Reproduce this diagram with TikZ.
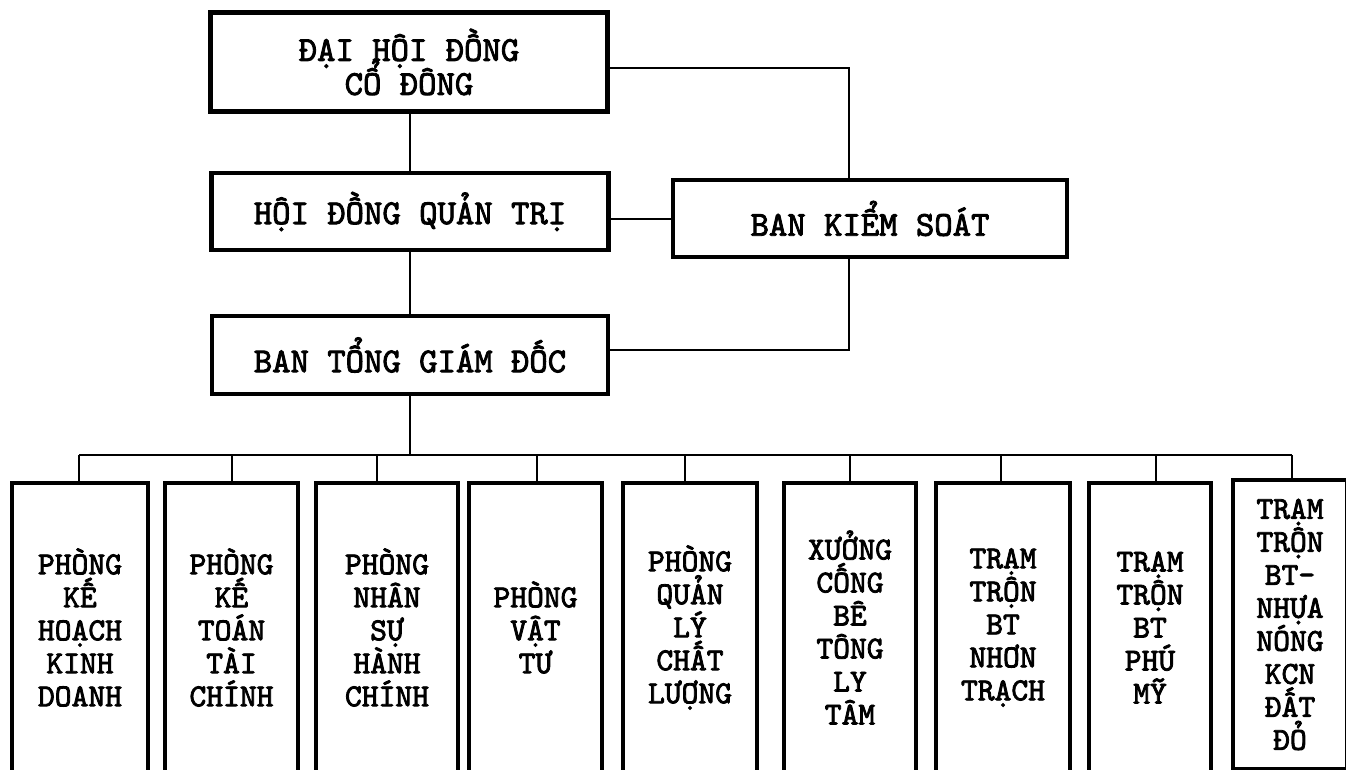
\documentclass[tikz,border=0pt]{standalone}
\usepackage{fontspec}
\newfontfamily\vnmono{lmmono10-regular.otf}[FakeBold=2.5]
\newcommand\vnlines{\lineskiplimit=-100pt\relax\lineskip=0pt\relax}
\begin{document}
\begin{tikzpicture}[x=1pt,y=-1pt,
  topbox/.style={draw,line width=4.5pt,align=center,inner sep=0pt,
    font=\vnmono\fontsize{35}{34}\selectfont\vnlines},
  unitbox/.style={draw,line width=4.5pt,align=center,inner sep=0pt,
    minimum height=289pt,font=\vnmono\fontsize{32}{33}\selectfont\vnlines},
  link/.style={line width=2pt}]
\useasboundingbox (0,0) rectangle (1346,770);
\clip (0,0) rectangle (1346,770);
\node[topbox,minimum width=397pt,minimum height=99pt] (dh) at (409,62) {ĐẠI HỘI ĐỒNG\\CỔ ĐÔNG};
\node[topbox,minimum width=397pt,minimum height=77pt] (hd) at (410,211.5) {HỘI ĐỒNG QUẢN TRỊ};
\node[topbox,minimum width=394pt,minimum height=77pt] (bks) at (870,218.5) {BAN KIỂM SOÁT};
\node[topbox,minimum width=396pt,minimum height=78pt] (tgd) at (410,355) {BAN TỔNG GIÁM ĐỐC};

\node[unitbox,minimum width=136pt] (u1) at (80,627.5) {PHÒNG\\KẾ\\HOẠCH\\KINH\\DOANH};
\node[unitbox,minimum width=133pt] (u2) at (231.5,627.5) {PHÒNG\\KẾ\\TOÁN\\TÀI\\CHÍNH};
\node[unitbox,minimum width=142pt] (u3) at (387,627.5) {PHÒNG\\NHÂN\\SỰ\\HÀNH\\CHÍNH};
\node[unitbox,minimum width=133pt] (u4) at (535.5,627.5) {PHÒNG\\VẬT\\TƯ};
\node[unitbox,minimum width=134pt] (u5) at (690,627.5) {PHÒNG\\QUẢN\\LÝ\\CHẤT\\LƯỢNG};
\node[unitbox,minimum width=132pt] (u6) at (850,627.5) {XƯỞNG\\CỐNG\\BÊ\\TÔNG\\LY\\TÂM};
\node[unitbox,minimum width=134pt] (u7) at (1003,627.5) {TRẠM\\TRỘN\\BT\\NHƠN\\TRẠCH};
\node[unitbox,minimum width=122pt] (u8) at (1150,627.5) {TRẠM\\TRỘN\\BT\\PHÚ\\MỸ};
\node[unitbox,minimum width=114pt] (u9) at (1290,624.5) {TRẠM\\TRỘN\\BT-\\NHỰA\\NÓNG\\KCN\\ĐẤT\\ĐỎ};

\coordinate (c1) at (849,68);
\coordinate (c2) at (849,350);
\coordinate (bus) at (410,455);
\coordinate (bl) at (79,455);
\coordinate (br) at (1292,455);

\draw[link] (dh.south -| 410,0) -- (hd.north -| 410,0);
\draw[link] (hd.south -| 410,0) -- (tgd.north -| 410,0);
\draw[link] (dh.east |- c1) -- (c1) -- (bks.north -| c1);
\draw[link] (hd.east |- 0,219) -- (bks.west |- 0,219);
\draw[link] (tgd.east |- c2) -- (c2) -- (bks.south -| c2);
\draw[link] (tgd.south -| bus) -- (bus);
\draw[link] (bl) -- (br);
\foreach \u/\x in {u1/79,u2/232,u3/377,u4/537,u5/685,u6/850,u7/1001,u8/1156,u9/1292}
  \draw[link] (\x,455) -- (\u.north -| \x,0);
\end{tikzpicture}
\end{document}
